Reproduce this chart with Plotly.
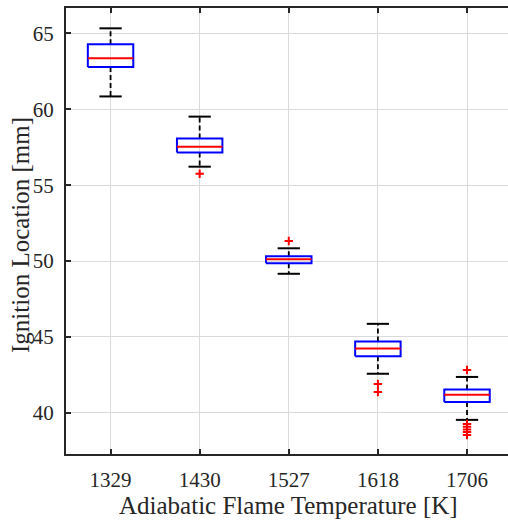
import plotly.graph_objects as go

# Box-plot statistics of ignition location per adiabatic flame temperature
temperatures = ["1329", "1430", "1527", "1618", "1706"]
upper_whisker = [65.34, 59.52, 50.84, 45.86, 42.36]
upper_quartile = [64.29, 58.08, 50.31, 44.69, 41.54]
median = [63.36, 57.54, 50.11, 44.23, 41.19]
lower_quartile = [62.79, 57.15, 49.85, 43.72, 40.71]
lower_whisker = [60.85, 56.22, 49.16, 42.57, 39.53]

# Outliers: category index and value
outlier_cat = [1, 2, 3, 3, 4, 4, 4, 4, 4, 4]
outlier_val = [55.75, 51.32, 41.89, 41.36, 42.82, 39.26, 39.08, 38.90, 38.73, 38.53]

BOX_HALF = 0.255
CAP_HALF = 0.125
FRAME = "#262626"
FONT = "Liberation Serif"

pos = list(range(len(temperatures)))

box_x, box_y = [], []
med_x, med_y = [], []
wh_x, wh_y = [], []
cap_x, cap_y = [], []
for i in pos:
    l, r = i - BOX_HALF, i + BOX_HALF
    box_x += [l, r, r, l, l, None]
    box_y += [lower_quartile[i], lower_quartile[i], upper_quartile[i], upper_quartile[i], lower_quartile[i], None]
    med_x += [l, r, None]
    med_y += [median[i], median[i], None]
    wh_x += [i, i, None, i, i, None]
    wh_y += [upper_quartile[i], upper_whisker[i], None, lower_quartile[i], lower_whisker[i], None]
    cap_x += [i - CAP_HALF, i + CAP_HALF, None, i - CAP_HALF, i + CAP_HALF, None]
    cap_y += [upper_whisker[i], upper_whisker[i], None, lower_whisker[i], lower_whisker[i], None]

fig = go.Figure()
fig.add_trace(go.Scatter(x=wh_x, y=wh_y, mode="lines",
                         line=dict(color="black", width=1.8, dash="5px,3px"), hoverinfo="skip"))
fig.add_trace(go.Scatter(x=cap_x, y=cap_y, mode="lines",
                         line=dict(color="black", width=2), hoverinfo="skip"))
fig.add_trace(go.Scatter(x=box_x, y=box_y, mode="lines",
                         line=dict(color="#0000ff", width=2), hoverinfo="skip"))
fig.add_trace(go.Scatter(x=med_x, y=med_y, mode="lines",
                         line=dict(color="#ff0000", width=2), hoverinfo="skip"))
fig.add_trace(go.Scatter(x=outlier_cat, y=outlier_val, mode="markers",
                         marker=dict(symbol="cross-thin", size=6,
                                     line=dict(color="#ff0000", width=2)),
                         hoverinfo="skip"))

fig.update_layout(
    width=508, height=520,
    margin=dict(l=66, r=0, t=8, b=66),
    plot_bgcolor="white", paper_bgcolor="white",
    showlegend=False,
    font=dict(family=FONT, color="#262626"),
)
fig.update_xaxes(
    range=[-0.5, 4.46], tickvals=pos, ticktext=temperatures,
    showgrid=True, gridcolor="#dadada", gridwidth=1.3, zeroline=False,
    showline=True, linecolor=FRAME, linewidth=2, mirror="ticks",
    ticks="inside", ticklen=5, tickwidth=1.5, tickcolor=FRAME,
    tickfont=dict(family=FONT, size=21, color="#262626"),
    ticklabelstandoff=6,
)
fig.update_yaxes(
    range=[37.28, 66.68], tickvals=[40, 45, 50, 55, 60, 65],
    showgrid=True, gridcolor="#dadada", gridwidth=1.3, zeroline=False,
    showline=True, linecolor=FRAME, linewidth=2, mirror=False,
    ticks="inside", ticklen=5, tickwidth=1.5, tickcolor=FRAME,
    tickfont=dict(family=FONT, size=21, color="#262626"),
    ticklabelstandoff=6,
)

fig.add_annotation(text="Adiabatic Flame Temperature [K]", xref="x", yref="paper",
                   x=2, y=0, yanchor="middle", yshift=-51, showarrow=False,
                   font=dict(family=FONT, size=25, color="#262626"))
fig.add_annotation(text="Ignition Location [mm]", xref="paper", yref="paper",
                   x=0, y=0.5, xanchor="center", xshift=-46, yshift=-4,
                   textangle=-90, showarrow=False,
                   font=dict(family=FONT, size=25, color="#262626"))

fig.write_html("out.html")
